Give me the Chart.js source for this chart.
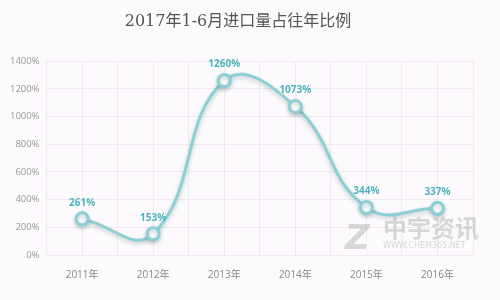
<!DOCTYPE html>
<html>
<head>
<meta charset="utf-8">
<script src="https://cdn.jsdelivr.net/npm/chart.js@4/dist/chart.umd.min.js"></script>
<style>
  html, body { margin: 0; padding: 0; background: #fcfafc; }
  #wrap { width: 500px; height: 300px; }
</style>
</head>
<body>
<div id="wrap"><canvas id="c"></canvas></div>
<script>
// Données
const years = ['2011年', '2012年', '2013年', '2014年', '2015年', '2016年'];
const ratios = [261, 153, 1260, 1073, 344, 337];
const titleText = '2017年1-6月进口量占往年比例';

const lineColor = '#8ccfd4';
const labelColor = '#4db3bd';
const gridColor = '#f1e9ef';

// ombre sous la courbe
const shadowPlugin = {
    id: 'shadow',
    beforeDatasetDraw(chart) {
        const ctx = chart.ctx;
        ctx.save();
        ctx.shadowColor = 'rgba(60,90,100,0.3)';
        ctx.shadowBlur = 4;
        ctx.shadowOffsetY = 2;
    },
    afterDatasetDraw(chart) {
        chart.ctx.restore();
    }
};

// étiquettes au-dessus des points + filigrane
const labelPlugin = {
    id: 'labels',
    afterDatasetsDraw(chart) {
        const ctx = chart.ctx;
        const meta = chart.getDatasetMeta(0);
        ctx.save();
        ctx.font = 'bold 10px "Open Sans", sans-serif';
        ctx.fillStyle = labelColor;
        ctx.textAlign = 'center';
        ctx.textBaseline = 'bottom';
        meta.data.forEach((pt, i) => {
            ctx.fillText(ratios[i] + '%', pt.x, pt.y - 11);
        });
        ctx.restore();
    },
    beforeDatasetsDraw(chart) {
        const ctx = chart.ctx;
        const a = chart.chartArea;
        ctx.save();
        ctx.fillStyle = 'rgba(150,150,150,0.35)';
        ctx.font = 'bold italic 34px "DejaVu Sans", sans-serif';
        ctx.textBaseline = 'alphabetic';
        ctx.fillText('Z', a.right - 128, a.bottom - 6);
        ctx.font = 'bold 24px "Noto Sans CJK SC", sans-serif';
        ctx.fillText('中宇资讯', a.right - 90, a.bottom - 18);
        ctx.font = '8px "DejaVu Sans", sans-serif';
        ctx.fillText('WWW.CHEM365.NET', a.right - 90, a.bottom - 7);
        ctx.restore();
    }
};

new Chart(document.getElementById('c'), {
    type: 'line',
    data: {
        labels: years,
        datasets: [{
            data: ratios,
            borderColor: lineColor,
            borderWidth: 3,
            tension: 0.45,
            pointRadius: 6,
            pointBorderWidth: 3,
            pointBackgroundColor: '#ffffff',
            pointBorderColor: lineColor,
        }]
    },
    options: {
        responsive: true,
        maintainAspectRatio: false,
        animation: false,
        layout: { padding: { left: 3, right: 27, top: 8, bottom: 13 } },
        plugins: {
            legend: { display: false },
            tooltip: { enabled: false },
            title: {
                display: true,
                text: titleText,
                color: '#555555',
                font: { size: 16, weight: 'normal', family: '"DejaVu Serif", "Noto Sans CJK SC", serif' },
                padding: { top: 4, bottom: 30 }
            }
        },
        scales: {
            x: {
                offset: true,
                grid: { display: false },
                border: { display: false },
                ticks: { color: '#888888', font: { size: 10, family: '"Open Sans", "Noto Sans CJK SC", sans-serif' }, padding: 6 }
            },
            // axe invisible pour les lignes verticales tous les demi-pas
            xg: {
                type: 'linear',
                position: 'top',
                min: -0.5,
                max: years.length - 0.5,
                ticks: { display: false, stepSize: 0.5 },
                grid: { color: gridColor, drawTicks: false },
                border: { display: false }
            },
            y: {
                min: 0,
                max: 1400,
                ticks: {
                    stepSize: 200,
                    color: '#999999',
                    font: { size: 9.5, family: '"Open Sans", sans-serif' },
                    padding: 7,
                    callback: v => v + '%'
                },
                grid: { color: gridColor, drawTicks: false },
                border: { display: false }
            }
        }
    },
    plugins: [shadowPlugin, labelPlugin]
});
</script>
</body>
</html>
